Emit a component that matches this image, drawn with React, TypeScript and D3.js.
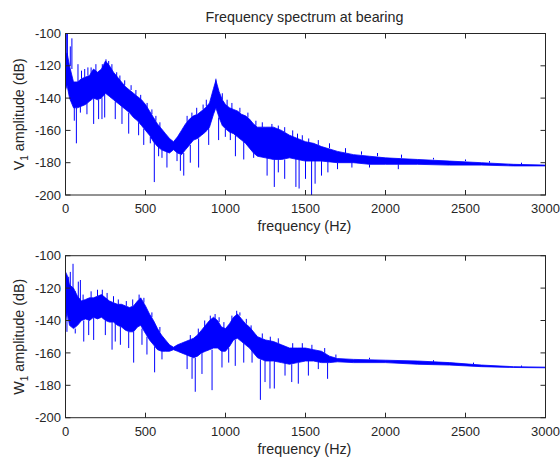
import React from 'react';
import * as d3 from 'd3';

// ---------------- data ----------------
const X_TICKS = [0, 500, 1000, 1500, 2000, 2500, 3000];
const Y_TICKS = [-100, -120, -140, -160, -180, -200];
const TITLE = 'Frequency spectrum at bearing';
const X_LABEL = 'frequency (Hz)';

// V1 spectrum: band envelope (upper / lower) at sample frequencies
const V_FREQ = [0, 10, 25, 50, 75, 100, 125, 150, 175, 200, 225, 250, 275, 300, 325, 350, 375, 400, 425, 450, 475, 500, 525, 550, 575, 600, 625, 650, 675, 700, 725, 750, 775, 800, 825, 850, 875, 900, 925, 940, 960, 980, 1000, 1025, 1050, 1075, 1100, 1125, 1150, 1175, 1200, 1250, 1300, 1350, 1400, 1450, 1500, 1550, 1600, 1700, 1800, 1900, 2000, 2200, 2400, 2600, 2800, 3000];
const V_UPPER = [-115, -112, -120, -130, -130, -128, -127, -126, -122, -124, -122, -117, -120, -124, -127, -130, -133, -135, -137, -139, -141, -144, -148, -152, -156, -159, -162, -165, -167, -164, -160, -156, -153, -151, -150, -148, -146, -143, -134, -129, -136, -141, -144, -146, -147, -148, -150, -151, -153, -156, -158, -158, -158, -160, -163, -165, -167, -168, -170, -173, -175, -176, -177, -178, -179, -180, -181, -181.5];
const V_LOWER = [-135, -132, -140, -146, -146, -145, -144, -142, -140, -141, -140, -137, -139, -141, -143, -145, -147, -149, -152, -154, -157, -160, -163, -167, -170, -172, -173, -174, -172, -174, -175, -172, -169, -166, -165, -163, -161, -158, -150, -146, -152, -157, -159, -161, -162, -164, -166, -168, -171, -174, -176, -177, -178, -178, -177, -178, -179, -179, -179, -180, -180, -181, -181, -181, -181.5, -181.5, -182, -182];
// V1 spikes: [frequency, from dB, to dB]
const V_SPIKES: [number, number, number][] = [
  [5, -118, -100], [12, -115, -100], [30, -120, -108], [40, -122, -103], [78, -132, -119],
  [160, -128, -121], [230, -125, -119], [253, -122, -116], [940, -134, -128],
  [1290, -162, -156], [1330, -163, -157], [1450, -168, -162], [1520, -170, -165],
  [55, -145, -154], [68, -146, -168], [93, -145, -149], [134, -143, -150], [176, -140, -156],
  [207, -141, -153], [228, -140, -153], [245, -137, -152], [311, -142, -153], [353, -145, -156],
  [395, -149, -162], [457, -155, -163], [489, -159, -169], [530, -164, -168], [555, -166, -192],
  [582, -170, -176], [603, -172, -177], [634, -173, -183], [697, -173, -179], [718, -175, -185],
  [739, -174, -188], [780, -169, -180], [832, -165, -183], [895, -158, -169], [957, -152, -166],
  [999, -159, -164], [1030, -161, -166], [1062, -163, -176], [1114, -167, -178], [1176, -174, -177],
  [1260, -177, -188], [1305, -178, -195], [1330, -178, -186], [1370, -178, -190], [1440, -177, -195],
  [1460, -178, -196], [1500, -179, -190], [1538, -179, -200], [1560, -179, -193], [1600, -179, -188],
  [1640, -179, -186], [1700, -180, -184], [1790, -180, -183], [1900, -181, -183], [2080, -181, -184],
  // small protrusions of the upper edge
  [100, -128, -123], [120, -127, -122], [140, -126, -121], [190, -124, -119], [270, -120, -117],
  [290, -123, -119], [320, -127, -124], [340, -129, -126], [370, -132, -129], [410, -135, -132],
  [440, -138, -135], [470, -141, -138], [510, -146, -143], [540, -150, -147], [565, -154, -151],
  [590, -158, -155], [760, -155, -151], [790, -152, -149], [820, -150, -146], [860, -147, -144],
  [880, -145, -141], [980, -141, -137], [1010, -145, -141], [1040, -147, -143], [1090, -149, -146],
  [1140, -152, -149], [1190, -157, -154], [1230, -158, -155], [1370, -161, -158], [1420, -164, -160],
  [1480, -166, -163], [1580, -169, -166], [1650, -171, -168], [1750, -174, -171], [1850, -175, -173],
  [1950, -176, -174], [2100, -177, -175], [2300, -178, -177], [2500, -179, -178], [2650, -180, -179],
  [2850, -181, -180],
];

// W1 spectrum
const W_FREQ = [0, 10, 25, 50, 75, 100, 125, 150, 175, 200, 225, 250, 275, 300, 325, 350, 375, 400, 425, 450, 470, 500, 525, 550, 575, 600, 625, 650, 675, 700, 725, 750, 775, 800, 825, 850, 875, 900, 925, 950, 975, 1000, 1025, 1050, 1075, 1100, 1125, 1150, 1175, 1200, 1250, 1300, 1350, 1400, 1450, 1500, 1550, 1600, 1650, 1700, 1800, 2000, 2200, 2400, 2600, 2800, 3000];
const W_UPPER = [-110, -112, -118, -120, -125, -128, -127, -126, -126, -125, -124, -126, -128, -129, -130, -130, -131, -132, -131, -128, -126, -131, -136, -140, -145, -149, -152, -155, -156.5, -155, -154, -153, -152, -151, -149, -146, -143, -140, -138, -140, -144, -145, -142, -138, -136, -139, -142, -144, -147, -150, -152, -153, -155, -157, -157, -157, -158, -159, -162, -163.5, -164, -164.5, -165, -166, -167.5, -168.5, -168.8];
const W_LOWER = [-140, -135, -143, -145, -143, -140, -139, -140, -138, -139, -138, -140, -141, -141, -143, -144, -146, -147, -147, -144, -143, -148, -152, -155, -158, -159, -159, -159, -158, -159, -160, -161, -162, -163, -162, -160, -159, -158, -157, -157, -159, -159, -156, -152, -151, -153, -155, -157, -160, -163, -165, -165, -166, -167, -166, -165, -165, -166, -166, -165.5, -166, -166, -167, -167.5, -168.5, -169, -169.2];
const W_SPIKES: [number, number, number][] = [
  [0, -120, -100], [30, -120, -110], [47, -122, -105], [61, -125, -122], [80, -127, -116],
  [93, -128, -115], [230, -126, -121], [935, -140, -136], [1070, -138, -134],
  [9, -135, -147], [61, -145, -148], [114, -140, -153], [145, -140, -149], [176, -138, -152],
  [249, -140, -149], [291, -141, -158], [311, -141, -153], [343, -144, -155], [395, -147, -157],
  [426, -147, -166], [478, -145, -155], [509, -150, -161], [557, -156, -172], [603, -159, -164],
  [760, -161, -170], [791, -163, -176], [811, -163, -184], [853, -160, -173], [916, -158, -183],
  [978, -159, -169], [1020, -157, -166], [1061, -152, -168], [1114, -154, -166], [1166, -158, -166],
  [1218, -164, -189], [1247, -165, -178], [1278, -165, -182], [1305, -165, -182], [1372, -166, -174],
  [1414, -167, -178], [1455, -166, -179], [1518, -165, -174], [1580, -165, -170], [1638, -166, -176],
  // small protrusions of the upper edge
  [20, -118, -113], [110, -128, -124], [160, -126, -122], [200, -125, -121], [260, -127, -123],
  [300, -129, -125], [330, -130, -127], [380, -131, -128], [420, -131, -127], [460, -127, -124],
  [490, -129, -126], [540, -138, -135], [590, -147, -144], [780, -152, -149], [830, -149, -145],
  [870, -144, -140], [905, -140, -137], [960, -141, -138], [990, -145, -141], [1040, -140, -137],
  [1090, -137, -135], [1130, -142, -139], [1160, -146, -143], [1230, -151, -148], [1280, -153, -150],
  [1330, -154, -151], [1420, -157, -154], [1480, -157, -154], [1540, -158, -155], [1620, -160, -157],
  [1690, -163, -161], [1900, -164, -163], [2300, -165.5, -164.5], [2550, -167, -166], [2850, -168.6, -167.8],
];

// ---------------- layout ----------------
const W = 560;
const H = 459;
const LEFT = 65.5;
const RIGHT = 545.5;
const FONT = "'Liberation Sans', Arial, Helvetica, sans-serif";
const INK = '#262626';
const BLUE = '#0000ff';

type PanelProps = {
  top: number;
  bottom: number;
  freq: number[];
  upper: number[];
  lower: number[];
  spikes: [number, number, number][];
  letter: string;
  id: string;
};

function Panel({ top, bottom, freq, upper, lower, spikes, letter, id }: PanelProps) {
  const x = d3.scaleLinear().domain([0, 3000]).range([LEFT, RIGHT]);
  const y = d3.scaleLinear().domain([-200, -100]).range([bottom, top]);
  const idx = d3.range(freq.length);
  const area = d3
    .area<number>()
    .x((i) => x(freq[i]))
    .y0((i) => y(lower[i]))
    .y1((i) => y(upper[i]));
  const tickLen = 5;
  const midY = (top + bottom) / 2;
  return (
    <g>
      <defs>
        <clipPath id={id}>
          <rect x={LEFT} y={top} width={RIGHT - LEFT} height={bottom - top} />
        </clipPath>
      </defs>
      <g clipPath={`url(#${id})`}>
        <path d={area(idx) || ''} fill={BLUE} stroke={BLUE} strokeWidth={0.8} strokeLinejoin="round" />
        {spikes.map(([f, a, b], i) => (
          <line key={i} x1={x(f)} x2={x(f)} y1={y(a)} y2={y(b)} stroke={BLUE} strokeWidth={1} />
        ))}
      </g>
      <rect x={LEFT} y={top} width={RIGHT - LEFT} height={bottom - top} fill="none" stroke={INK} strokeWidth={1} />
      {X_TICKS.map((t) => (
        <g key={'x' + t}>
          <line x1={x(t)} x2={x(t)} y1={bottom} y2={bottom - tickLen} stroke={INK} />
          <line x1={x(t)} x2={x(t)} y1={top} y2={top + tickLen} stroke={INK} />
          <text x={x(t)} y={bottom + 18.3} textAnchor="middle" fontSize={13} fontFamily={FONT} fill={INK}>
            {t}
          </text>
        </g>
      ))}
      {Y_TICKS.map((t) => (
        <g key={'y' + t}>
          <line x1={LEFT} x2={LEFT + tickLen} y1={y(t)} y2={y(t)} stroke={INK} />
          <line x1={RIGHT} x2={RIGHT - tickLen} y1={y(t)} y2={y(t)} stroke={INK} />
          <text x={LEFT - 4.5} y={y(t) + 4.6} textAnchor="end" fontSize={13} fontFamily={FONT} fill={INK}>
            {t}
          </text>
        </g>
      ))}
      <text x={(LEFT + RIGHT) / 2 - 1} y={bottom + 36} textAnchor="middle" fontSize={14.3} fontFamily={FONT} fill={INK}>
        {X_LABEL}
      </text>
      <text
        transform={`translate(23.5,${midY}) rotate(-90)`}
        textAnchor="middle"
        fontSize={14.3}
        fontFamily={FONT}
        fill={INK}
      >
        <tspan>{letter}</tspan>
        <tspan fontSize={10} dy={4}>1</tspan>
        <tspan dy={-4}> amplitude (dB)</tspan>
      </text>
    </g>
  );
}

export default function App() {
  return (
    <svg
      width={W}
      height={H}
      viewBox={`0 0 ${W} ${H}`}
      style={{ position: 'absolute', left: 0, top: 0, background: '#fff' }}
    >
      <rect width={W} height={H} fill="#fff" />
      <text x={(LEFT + RIGHT) / 2 - 1} y={21.5} textAnchor="middle" fontSize={14.3} fontFamily={FONT} fill={INK}>
        {TITLE}
      </text>
      <Panel top={33.5} bottom={195} freq={V_FREQ} upper={V_UPPER} lower={V_LOWER} spikes={V_SPIKES} letter="V" id="clipV" />
      <Panel top={255.7} bottom={417.7} freq={W_FREQ} upper={W_UPPER} lower={W_LOWER} spikes={W_SPIKES} letter="W" id="clipW" />
    </svg>
  );
}
